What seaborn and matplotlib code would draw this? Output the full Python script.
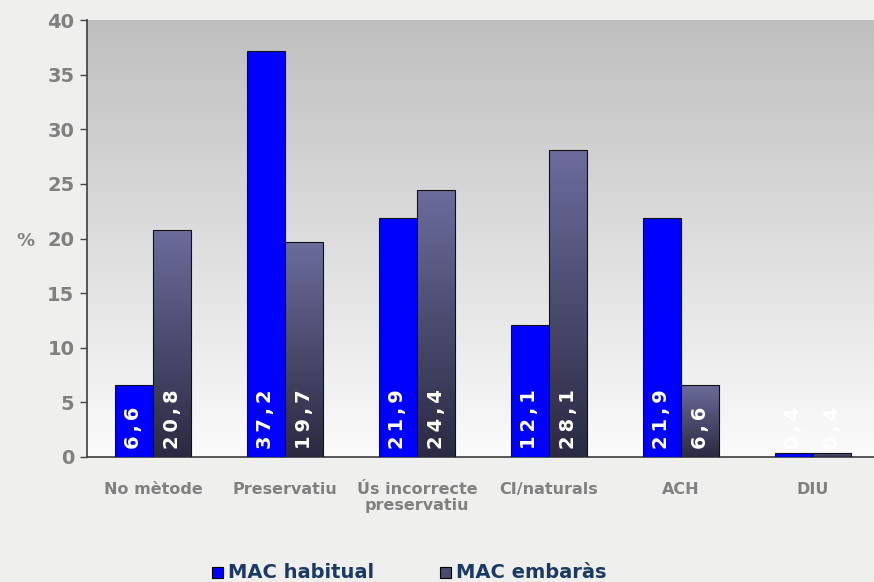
import numpy as np
import pandas as pd
import matplotlib
matplotlib.use("Agg")
import matplotlib.pyplot as plt
import seaborn as sns
from matplotlib.colors import LinearSegmentedColormap
from matplotlib.patches import Rectangle

categories = ["No mètode", "Preservatiu", "Ús incorrecte\npreservatiu", "CI/naturals", "ACH", "DIU"]
habitual = [6.6, 37.2, 21.9, 12.1, 21.9, 0.4]
embaras = [20.8, 19.7, 24.4, 28.1, 6.6, 0.4]
series_names = ["MAC habitual", "MAC embaràs"]
yticks = [0, 5, 10, 15, 20, 25, 30, 35, 40]

df = pd.DataFrame({
    "cat": categories * 2,
    "val": habitual + embaras,
    "serie": [series_names[0]] * 6 + [series_names[1]] * 6,
})

sns.set_theme(style="white")
plt.rcParams["font.family"] = ["DejaVu Sans"]

fig = plt.figure(figsize=(8.74, 5.82), dpi=100)
fig.patch.set_facecolor("#efefed")
ax = fig.add_axes([87 / 874, 1 - 457 / 582, 792 / 874, 437 / 582])

palette = {series_names[0]: "#0000ff", series_names[1]: "#4a4a70"}
sns.barplot(data=df, x="cat", y="val", hue="serie", palette=palette, ax=ax,
            width=0.576, dodge=True, saturation=1, edgecolor="#111111",
            linewidth=0.8, legend=False, zorder=3)

# background gradient
bg = LinearSegmentedColormap.from_list("bg", ["#fbfbfb", "#bfbfbf"])
grad = np.linspace(0, 1, 256).reshape(-1, 1)
ax.imshow(grad, aspect="auto", cmap=bg, origin="lower",
          extent=(-0.5, 5.5, 0, 40), zorder=0)
ax.set_xlim(-0.5, 5.5)
ax.set_ylim(0, 40)

# gradient fill for the second series bars
barcm = LinearSegmentedColormap.from_list("bar", ["#2a2a42", "#6c6c9c"])
n = len(categories)
patches = [p for p in ax.patches]
for i, p in enumerate(patches):
    if i >= n:
        x0, y0 = p.get_x(), p.get_y()
        w, h = p.get_width(), p.get_height()
        im = ax.imshow(grad, aspect="auto", cmap=barcm, origin="lower",
                       extent=(x0, x0 + w, y0, y0 + h), zorder=3.5)
        im.set_clip_path(p)
        p.set_zorder(4)
        p.set_facecolor("none")

# value labels
allvals = habitual + embaras
for i, p in enumerate(patches):
    txt = f"{allvals[i]:.1f}".replace(".", ",")
    txt = "\u2009".join(txt)
    ax.text(p.get_x() + p.get_width() / 2, 0.75, txt, rotation=90,
            ha="center", va="bottom", color="white", fontsize=14,
            fontweight="bold", zorder=6)

ax.set_xlabel("")
ax.set_ylabel("%", rotation=0, fontsize=13, fontweight="bold", color="#808080",
              va="center", ha="center")
ax.yaxis.set_label_coords(-0.078, 0.495)
ax.set_yticks(yticks)
ax.set_yticklabels([str(t) for t in yticks], fontsize=14, fontweight="bold",
                   color="#808080")
ax.set_xticks(np.arange(-0.5, 5.5, 1), minor=True)
ax.set_xticks(range(n))
ax.set_xticklabels(categories, fontsize=11.5, fontweight="bold", color="#808080",
                   linespacing=1.1)
ax.tick_params(axis="x", which="major", length=0, pad=18)
ax.tick_params(axis="x", which="minor", length=5, color="#444444", width=1,
               direction="out")
ax.tick_params(axis="y", length=5, color="#444444", width=1, direction="out",
               left=True, pad=4)

for s in ["top", "right"]:
    ax.spines[s].set_visible(False)
ax.spines["left"].set_color("#444444")
ax.spines["bottom"].set_color("#444444")

# legend
for xpos, name, col in [(212, series_names[0], "#0000ff"), (440, series_names[1], "#4a4a70")]:
    fig.patches.append(Rectangle((xpos / 874, 1 - 578 / 582), 11 / 874, 11 / 582,
                                 transform=fig.transFigure, facecolor=col,
                                 edgecolor="black", linewidth=0.8))
    fig.text((xpos + 16) / 874, 1 - 572 / 582, name, fontsize=14,
             fontweight="bold", color="#1a3a66", va="center", ha="left")

fig.savefig("out.png", dpi=100, facecolor=fig.get_facecolor())
